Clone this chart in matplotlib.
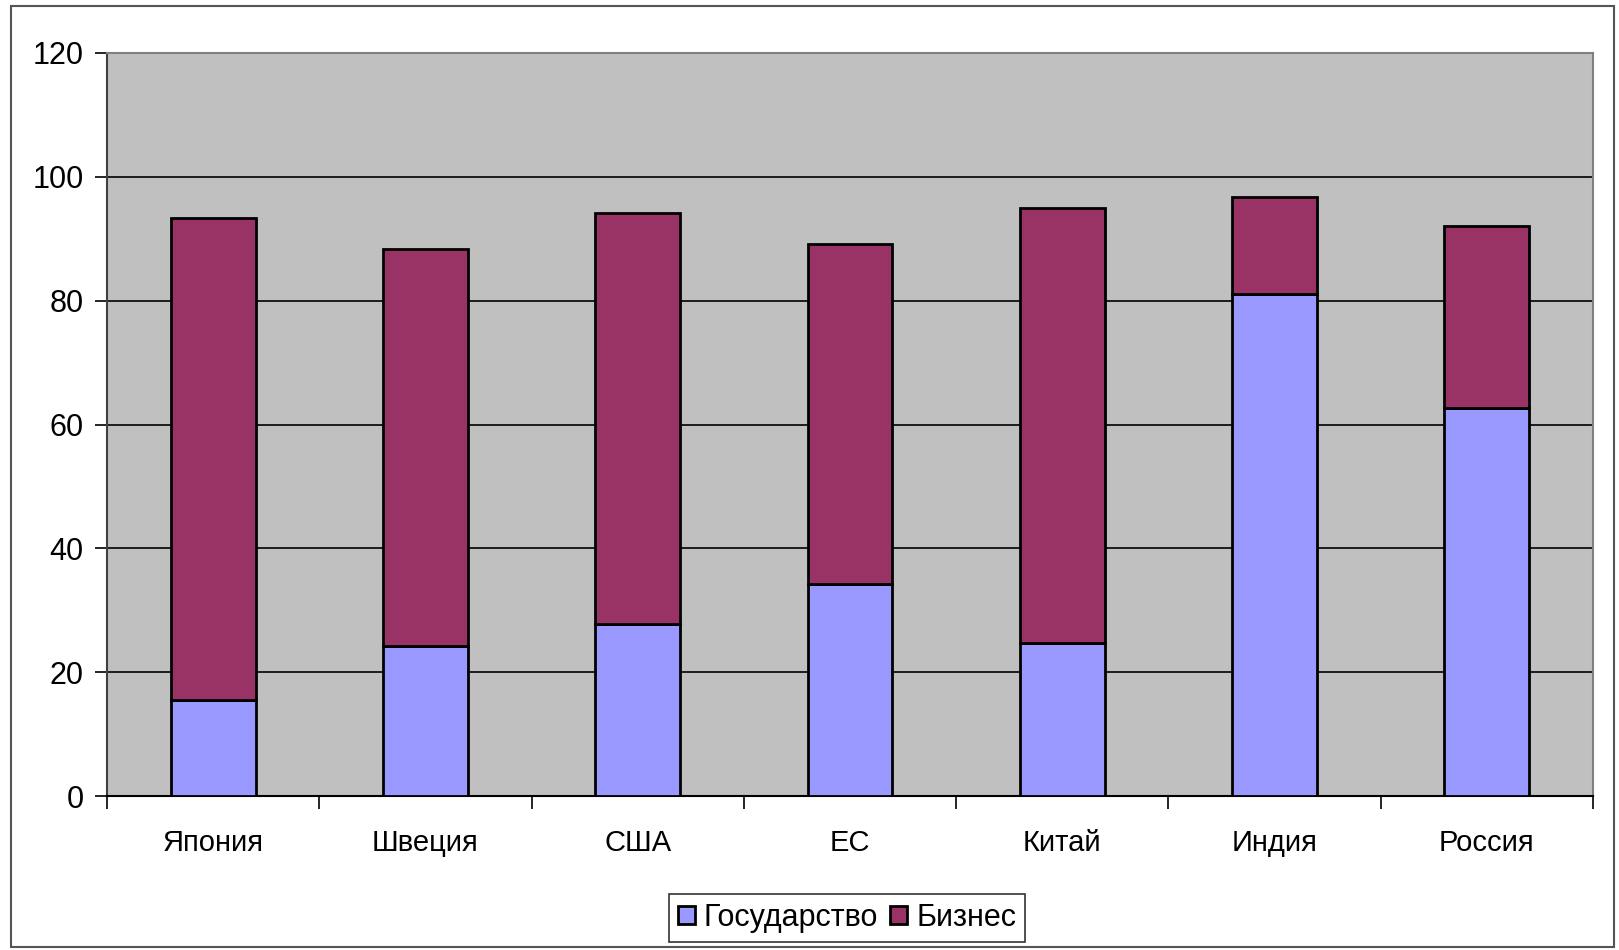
import matplotlib

matplotlib.use("Agg")

import matplotlib.pyplot as plt
from matplotlib.patches import Rectangle
import numpy as np

countries = ["Япония", "Швеция", "США", "ЕС", "Китай", "Индия", "Россия"]
government = [15.5, 24.2, 27.7, 34.2, 24.7, 81.0, 62.6]
business = [77.8, 64.1, 66.5, 55.0, 70.3, 15.8, 29.4]
y_ticks = [0, 20, 40, 60, 80, 100, 120]

plt.rcParams["font.family"] = ["Liberation Sans", "DejaVu Sans"]

fig = plt.figure(figsize=(16.19, 9.5), dpi=100)
fig.patch.set_facecolor("white")
fig.patches.append(
    Rectangle((0.0065, 0.003), 0.9905, 0.991, transform=fig.transFigure,
              fill=False, edgecolor="#555555", linewidth=1.5)
)

ax = fig.add_axes([107 / 1619, 1 - 796 / 950, (1593 - 107) / 1619, (796 - 53) / 950])
ax.set_facecolor("#C0C0C0")

x = np.arange(len(countries))
ax.bar(x, government, width=0.4, color="#9999FF", edgecolor="black",
       linewidth=2, label="Государство", zorder=3)
ax.bar(x, business, width=0.4, bottom=government, color="#993366",
       edgecolor="black", linewidth=2, label="Бизнес", zorder=3)

ax.set_xlim(-0.5, len(countries) - 0.5)
ax.set_ylim(0, 120)
ax.set_yticks(y_ticks)
ax.yaxis.grid(True, color="black", linewidth=1.2, zorder=1)
ax.set_axisbelow(True)

# category labels sit between the boundary ticks
ax.set_xticks(np.arange(len(countries) + 1) - 0.5)
ax.set_xticklabels([])
ax.set_xticks(x, minor=True)
ax.set_xticklabels(countries, minor=True)
ax.tick_params(axis="x", which="minor", length=0, pad=24, labelsize=21)
ax.tick_params(axis="x", which="major", length=9, width=1.2, direction="out")
ax.tick_params(axis="y", length=9, width=1.2, direction="out", pad=8, labelsize=22)

for side in ["top", "right"]:
    ax.spines[side].set_color("#808080")
    ax.spines[side].set_linewidth(1.5)
ax.spines["left"].set_color("#404040")
ax.spines["left"].set_linewidth(1.5)
ax.spines["bottom"].set_color("black")
ax.spines["bottom"].set_linewidth(1.5)

leg = fig.legend(loc="center", bbox_to_anchor=(847 / 1619, 1 - 918 / 950), ncol=2,
                 fontsize=22, frameon=True, fancybox=False, edgecolor="black",
                 handlelength=0.55, handleheight=0.55, handletextpad=0.3,
                 columnspacing=0.4, borderpad=0.3)
leg.get_frame().set_linewidth(1.2)

fig.savefig("out.png", dpi=100)
